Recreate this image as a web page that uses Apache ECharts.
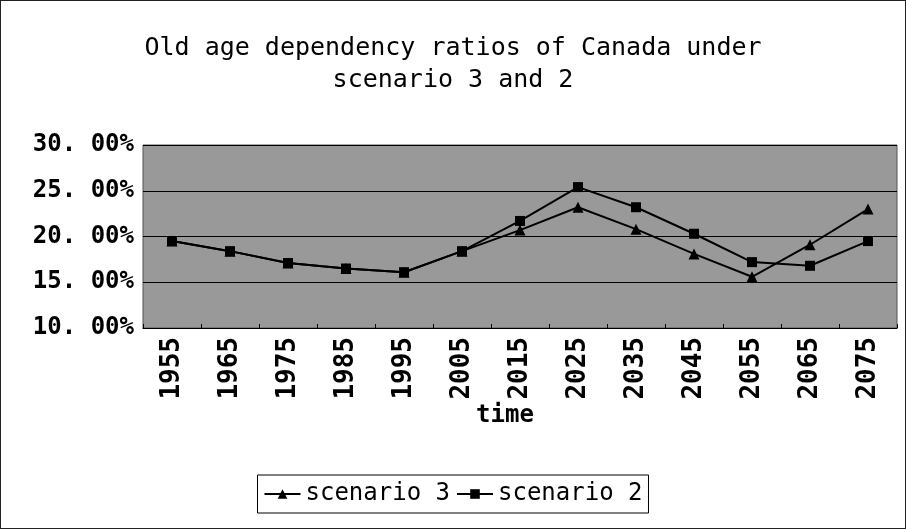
<!DOCTYPE html>
<html>
<head>
<meta charset="utf-8">
<script src="https://cdn.jsdelivr.net/npm/echarts@6/dist/echarts.min.js"></script>
<style>
  html, body { margin: 0; padding: 0; background: #fff; }
  #main { width: 906px; height: 529px; box-sizing: border-box; border: 1px solid #222; }
</style>
</head>
<body>
<div id="main"></div>
<script>
// 数据：年份与两种情景下的老年抚养比（%）
var years = ['1955', '1965', '1975', '1985', '1995', '2005', '2015', '2025', '2035', '2045', '2055', '2065', '2075'];
var scenario3 = [19.5, 18.4, 17.1, 16.5, 16.1, 18.4, 20.7, 23.2, 20.8, 18.1, 15.6, 19.1, 23.0];
var scenario2 = [19.5, 18.4, 17.1, 16.5, 16.1, 18.4, 21.7, 25.4, 23.2, 20.3, 17.2, 16.8, 19.5];

var font = 'DejaVu Sans Mono';
var myChart = echarts.init(document.getElementById('main'));

var option = {
    animation: false,
    title: {
        text: 'Old age dependency ratios of Canada under\nscenario 3 and 2',
        left: 'center',
        top: 26,
        textStyle: { fontFamily: font, fontSize: 25, fontWeight: 'normal', color: '#000', lineHeight: 32 }
    },
    legend: {
        bottom: 15,
        left: 'center',
        itemGap: 6,
        itemWidth: 36,
        itemHeight: 12,
        borderColor: '#000',
        borderWidth: 1,
        borderRadius: 0,
        padding: [7, 6, 7, 6],
        textStyle: { fontFamily: font, fontSize: 24, color: '#000' },
        data: ['scenario 3', 'scenario 2']
    },
    grid: {
        left: 142,
        right: 8,
        top: 144,
        bottom: 200,
        show: true,
        backgroundColor: '#999999',
        borderColor: '#555',
        borderWidth: 1
    },
    xAxis: {
        type: 'category',
        data: years,
        boundaryGap: true,
        name: 'time',
        nameLocation: 'middle',
        nameGap: 76,
        nameTextStyle: { fontFamily: font, fontSize: 24, fontWeight: 'bold', color: '#000', padding: [0, 30, 0, 0] },
        axisLine: { lineStyle: { color: '#000' } },
        axisTick: { show: true, inside: true, length: 4, lineStyle: { color: '#000' } },
        axisLabel: { rotate: 90, margin: 9, fontFamily: font, fontSize: 26, fontWeight: 'bold', color: '#000' }
    },
    yAxis: {
        type: 'value',
        min: 10,
        max: 30,
        interval: 5,
        axisLine: { show: false },
        axisTick: { show: false },
        splitLine: { lineStyle: { color: '#000', width: 1 } },
        axisLabel: {
            margin: 9,
            fontFamily: font,
            fontSize: 24,
            fontWeight: 'bold',
            color: '#000',
            formatter: function (v) {
                return v.toFixed(2).replace('.', '. ') + '%';
            }
        }
    },
    series: [{
        name: 'scenario 3',
        type: 'line',
        data: scenario3,
        symbol: 'triangle',
        symbolSize: 11,
        itemStyle: { color: '#000' },
        lineStyle: { color: '#000', width: 2 }
    }, {
        name: 'scenario 2',
        type: 'line',
        data: scenario2,
        symbol: 'rect',
        symbolSize: 10,
        itemStyle: { color: '#000' },
        lineStyle: { color: '#000', width: 2 }
    }]
};
myChart.setOption(option);
</script>
</body>
</html>
